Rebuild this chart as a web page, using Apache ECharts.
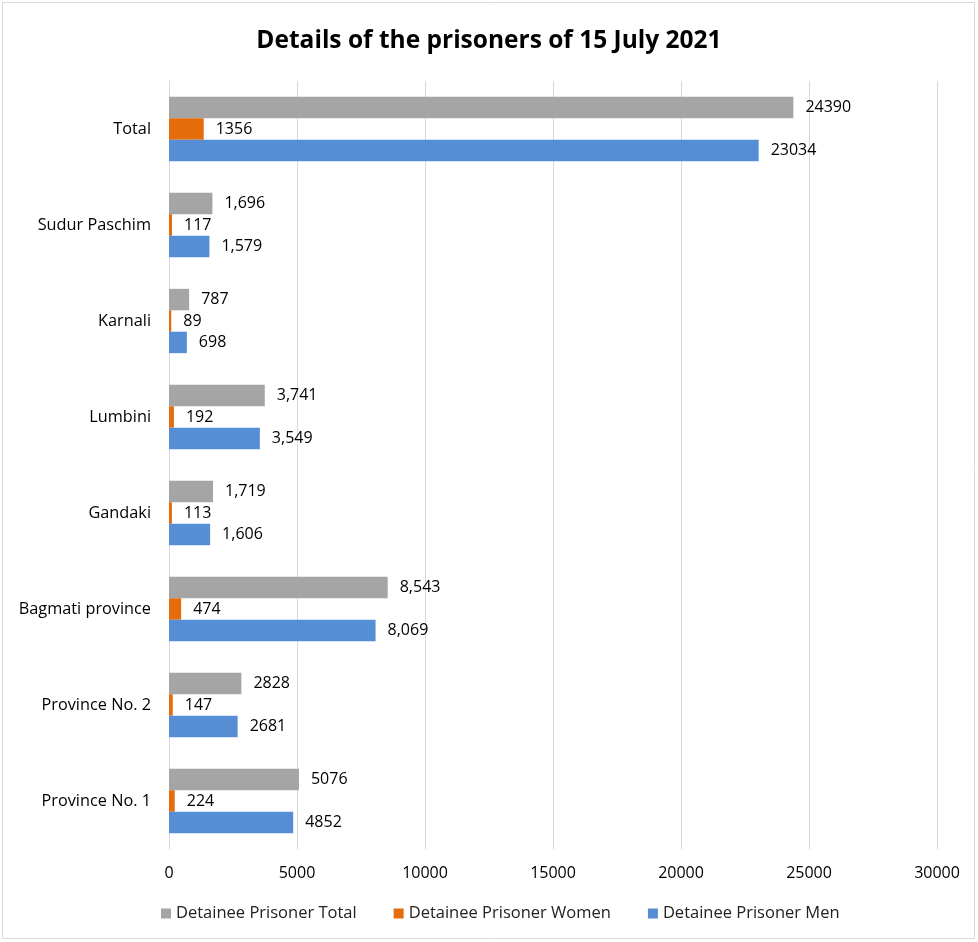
<!DOCTYPE html>
<html><head><meta charset="utf-8">
<script src="https://cdn.jsdelivr.net/npm/echarts@6/dist/echarts.min.js"></script>
<style>html,body{margin:0;padding:0;background:#fff}#c{width:978px;height:942px}</style>
</head><body><div id="c"></div>
<script>
const categories = ['Province No. 1','Province No. 2','Bagmati province','Gandaki','Lumbini','Karnali','Sudur Paschim','Total'];
const totalValues = [5076, 2828, 8543, 1719, 3741, 787, 1696, 24390];
const womenValues = [224, 147, 474, 113, 192, 89, 117, 1356];
const menValues = [4852, 2681, 8069, 1606, 3549, 698, 1579, 23034];
const totalLabels = ['5076','2828','8,543','1,719','3,741','787','1,696','24390'];
const womenLabels = ['224','147','474','113','192','89','117','1356'];
const menLabels = ['4852','2681','8,069','1,606','3,549','698','1,579','23034'];
const xTicks = [0, 5000, 10000, 15000, 20000, 25000, 30000];
const seriesNames = ['Detainee Prisoner Total','Detainee Prisoner Women','Detainee Prisoner Men'];

const FONT = 'Open Sans';
const chart = echarts.init(document.getElementById('c'));
function mk(name, vals, labels, color){
  return {
    name, type:'bar', data: vals, barGap:'0%', barCategoryGap:'33%',
    itemStyle:{color},
    label:{show:true, position:'right', distance:12, color:'#000', fontFamily:FONT, fontSize:16,
      formatter: p => labels[p.dataIndex]}
  };
}
chart.setOption({
  animation:false,
  title:{text:'Details of the prisoners of 15 July 2021', left:'center', top:24,
    textStyle:{fontFamily:FONT, fontWeight:'bold', fontSize:24.5, color:'#000'}},
  grid:{left:169, right:41, top:81, bottom:93, containLabel:false},
  legend:{data:seriesNames, bottom:15, left:156, itemWidth:10, itemHeight:10, itemGap:37, icon:'rect',
    textStyle:{fontFamily:FONT, fontSize:16.5, color:'#222'}},
  xAxis:{type:'value', min:xTicks[0], max:xTicks[xTicks.length-1], interval:5000,
    axisLine:{show:false}, axisTick:{show:false},
    splitLine:{lineStyle:{color:'#d9d9d9', width:1}},
    axisLabel:{fontFamily:FONT, fontSize:16, color:'#000', margin:16, formatter: v => String(v)}},
  yAxis:{type:'category', data:categories,
    axisLine:{show:true, lineStyle:{color:'#d9d9d9'}}, axisTick:{show:false},
    axisLabel:{fontFamily:FONT, fontSize:16.3, color:'#000', margin:18}},
  series:[
    mk(seriesNames[0], totalValues, totalLabels, '#A5A5A5'),
    mk(seriesNames[1], womenValues, womenLabels, '#E46C0A'),
    mk(seriesNames[2], menValues, menLabels, '#558ED5')
  ],
  graphic:[{type:'rect', shape:{x:2.5,y:2.5,width:972,height:936}, style:{fill:'none', stroke:'#d9d9d9', lineWidth:1}, silent:true}]
});
</script></body></html>
